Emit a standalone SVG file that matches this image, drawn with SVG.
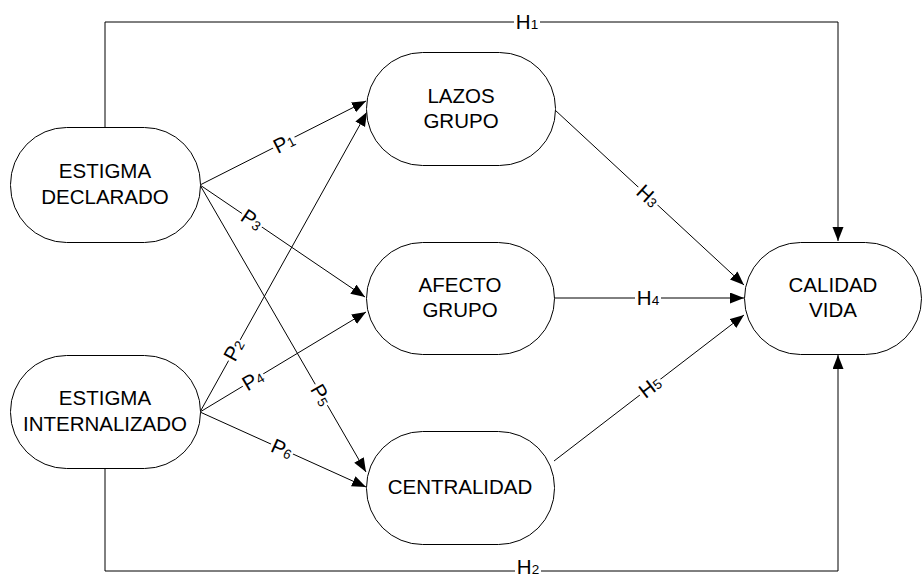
<svg xmlns="http://www.w3.org/2000/svg" width="923" height="576" viewBox="0 0 923 576">
  <style>
    .node rect { fill: #fff; stroke: #000; stroke-width: 1; }
    .node text { font-family: "Liberation Sans", Arial, sans-serif; font-size: 20.5px; fill: #000; text-anchor: middle; }
    .edge { fill: none; stroke: #000; stroke-width: 1; marker-end: url(#arrow); }
    .lbl rect { fill: #fff; }
    .lbl text { font-family: "Liberation Sans", Arial, sans-serif; font-size: 20.5px; fill: #000; text-anchor: middle; }
    .sub { font-size: 13.5px; }
  </style>
  <defs>
    <marker id="arrow" markerUnits="userSpaceOnUse" markerWidth="15" markerHeight="12" refX="14" refY="5.5" orient="auto">
      <path d="M0,0 L14,5.5 L0,11 z" fill="#000"/>
    </marker>
  </defs>
  <rect width="923" height="576" fill="#fff"/>

  <!-- connectors -->
  <g id="connectors">
    <path class="edge" d="M105,127 V22 H838 V241"/>
    <path class="edge" d="M105,468 V571 H838 V355"/>
    <path class="edge" d="M200,185 L366,101"/>
    <path class="edge" d="M200,412 L367,112"/>
    <path class="edge" d="M200,185 L365,297"/>
    <path class="edge" d="M200,412 L366,312"/>
    <path class="edge" d="M200,185 L366,472"/>
    <path class="edge" d="M200,412 L366,487"/>
    <path class="edge" d="M555,110 L744,285"/>
    <path class="edge" d="M554,298 L744,298"/>
    <path class="edge" d="M554,461 L744,315"/>

    <!-- path labels -->
    <g class="lbl" transform="translate(527,22)"><rect x="-13" y="-9" width="26" height="18"/><text y="7">H<tspan class="sub">1</tspan></text></g>
    <g class="lbl" transform="translate(528,571)"><rect x="-13" y="-12" width="26" height="17"/><text y="2.5">H<tspan class="sub">2</tspan></text></g>
    <g class="lbl" transform="translate(648,196) rotate(42.8)"><rect x="-13" y="-9" width="26" height="18"/><text y="7">H<tspan class="sub">3</tspan></text></g>
    <g class="lbl" transform="translate(648,298)"><rect x="-13" y="-9" width="26" height="18"/><text y="7">H<tspan class="sub">4</tspan></text></g>
    <g class="lbl" transform="translate(650,387) rotate(-37.5)"><rect x="-13" y="-9" width="26" height="18"/><text y="7">H<tspan class="sub">5</tspan></text></g>
    <g class="lbl" transform="translate(284,143) rotate(-26.8)"><rect x="-12" y="-9" width="24" height="18"/><text y="7">P<tspan class="sub">1</tspan></text></g>
    <g class="lbl" transform="translate(234,350) rotate(-60.9)"><rect x="-12" y="-9" width="24" height="18"/><text y="7">P<tspan class="sub">2</tspan></text></g>
    <g class="lbl" transform="translate(252,220) rotate(34.2)"><rect x="-12" y="-9" width="24" height="18"/><text y="7">P<tspan class="sub">3</tspan></text></g>
    <g class="lbl" transform="translate(253,380) rotate(-31)"><rect x="-12" y="-9" width="24" height="18"/><text y="7">P<tspan class="sub">4</tspan></text></g>
    <g class="lbl" transform="translate(321,395) rotate(60)"><rect x="-12" y="-9" width="24" height="18"/><text y="7">P<tspan class="sub">5</tspan></text></g>
    <g class="lbl" transform="translate(282,449) rotate(24.3)"><rect x="-12" y="-9" width="24" height="18"/><text y="7">P<tspan class="sub">6</tspan></text></g>
  </g>

  <!-- nodes -->
  <g id="estigma-declarado" class="node">
    <rect x="10.5" y="127.5" width="190" height="115" rx="56" ry="57"/>
    <text x="105" y="177.5">ESTIGMA</text>
    <text x="105" y="203.5">DECLARADO</text>
  </g>
  <g id="estigma-internalizado" class="node">
    <rect x="10.5" y="355.5" width="190" height="113" rx="56" ry="56"/>
    <text x="105" y="404.5">ESTIGMA</text>
    <text x="105" y="431">INTERNALIZADO</text>
  </g>
  <g id="lazos-grupo" class="node">
    <rect x="366.5" y="52.5" width="189" height="113" rx="56" ry="56"/>
    <text x="461" y="103">LAZOS</text>
    <text x="461" y="127.5">GRUPO</text>
  </g>
  <g id="afecto-grupo" class="node">
    <rect x="366.5" y="242.5" width="188" height="112" rx="56" ry="56"/>
    <text x="460" y="292">AFECTO</text>
    <text x="460" y="317">GRUPO</text>
  </g>
  <g id="centralidad" class="node">
    <rect x="366.5" y="431.5" width="188" height="113" rx="56" ry="56"/>
    <text x="460" y="493.5">CENTRALIDAD</text>
  </g>
  <g id="calidad-vida" class="node">
    <rect x="744.5" y="242.5" width="177" height="112" rx="56" ry="56"/>
    <text x="833" y="292">CALIDAD</text>
    <text x="833" y="317">VIDA</text>
  </g>
</svg>
